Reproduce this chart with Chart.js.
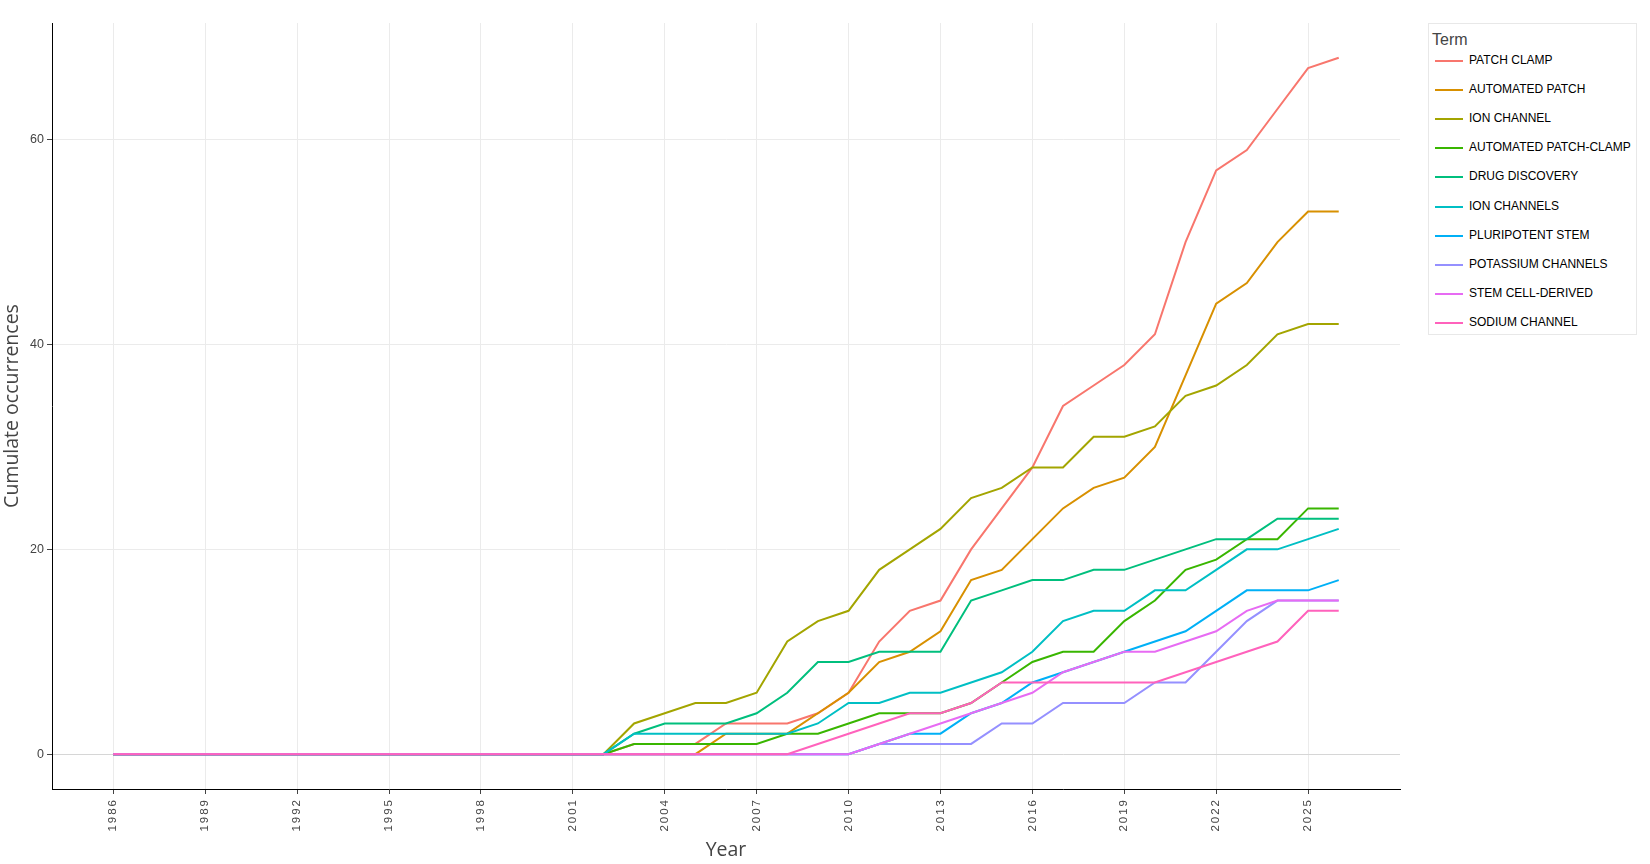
<!DOCTYPE html>
<html lang="en">
<head>
  <meta charset="UTF-8" />
  <title>Cumulate occurrences by term</title>
  <script src="https://cdn.jsdelivr.net/npm/chart.js"></script>
  <style>
    body { margin: 0; background: #fff; }
    #wrap { position: relative; width: 1650px; height: 864px; }
    #legend {
      position: absolute; left: 1428px; top: 23px; width: 207px; height: 310px;
      border: 1px solid #e8e8e8; background: #fff;
      font-family: "Liberation Sans", Arial, sans-serif;
    }
    #legend .title { position: absolute; left: 3px; top: 7px; font-size: 16px; color: #444; }
    #legend .item { position: absolute; left: 6px; height: 14px; }
    #legend .swatch { position: absolute; left: 0; top: 6px; width: 28px; height: 2px; }
    #legend .label { position: absolute; left: 34px; top: -1px; font-size: 12px; color: #000; white-space: nowrap; }
  </style>
</head>
<body>
  <div id="wrap">
    <canvas id="trendChart" width="1650" height="864"></canvas>
    <div id="legend"><div class="title">Term</div></div>
  </div>

  <script>
    // years 1986 .. 2026
    const years = [];
    for (let y = 1986; y <= 2026; y++) years.push(y);

    const xTickYears = [1986, 1989, 1992, 1995, 1998, 2001, 2004, 2007, 2010, 2013, 2016, 2019, 2022, 2025];
    const yTickValues = [0, 20, 40, 60];

    const terms = [
      "PATCH CLAMP", "AUTOMATED PATCH", "ION CHANNEL", "AUTOMATED PATCH-CLAMP", "DRUG DISCOVERY",
      "ION CHANNELS", "PLURIPOTENT STEM", "POTASSIUM CHANNELS", "STEM CELL-DERIVED", "SODIUM CHANNEL"
    ];
    const colors = [
      "#F8766D", "#D89000", "#A3A500", "#39B600", "#00BF7D",
      "#00BFC4", "#00B0F6", "#9590FF", "#E76BF3", "#FF62BC"
    ];

    // 1986-2002 are all zero
    const zeros = [0, 0, 0, 0, 0, 0, 0, 0, 0, 0, 0, 0, 0, 0, 0, 0, 0];

    // values 2003 .. 2026
    const patchClamp        = zeros.concat([1, 1, 1, 3, 3, 3, 4, 6, 11, 14, 15, 20, 24, 28, 34, 36, 38, 41, 50, 57, 59, 63, 67, 68]);
    const automatedPatch    = zeros.concat([0, 0, 0, 2, 2, 2, 4, 6, 9, 10, 12, 17, 18, 21, 24, 26, 27, 30, 37, 44, 46, 50, 53, 53]);
    const ionChannel        = zeros.concat([3, 4, 5, 5, 6, 11, 13, 14, 18, 20, 22, 25, 26, 28, 28, 31, 31, 32, 35, 36, 38, 41, 42, 42]);
    const automatedPatchCl  = zeros.concat([1, 1, 1, 1, 1, 2, 2, 3, 4, 4, 4, 5, 7, 9, 10, 10, 13, 15, 18, 19, 21, 21, 24, 24]);
    const drugDiscovery     = zeros.concat([2, 3, 3, 3, 4, 6, 9, 9, 10, 10, 10, 15, 16, 17, 17, 18, 18, 19, 20, 21, 21, 23, 23, 23]);
    const ionChannels       = zeros.concat([2, 2, 2, 2, 2, 2, 3, 5, 5, 6, 6, 7, 8, 10, 13, 14, 14, 16, 16, 18, 20, 20, 21, 22]);
    const pluripotentStem   = zeros.concat([0, 0, 0, 0, 0, 0, 0, 0, 1, 2, 2, 4, 5, 7, 8, 9, 10, 11, 12, 14, 16, 16, 16, 17]);
    const potassiumChannels = zeros.concat([0, 0, 0, 0, 0, 0, 0, 0, 1, 1, 1, 1, 3, 3, 5, 5, 5, 7, 7, 10, 13, 15, 15, 15]);
    const stemCellDerived   = zeros.concat([0, 0, 0, 0, 0, 0, 0, 0, 1, 2, 3, 4, 5, 6, 8, 9, 10, 10, 11, 12, 14, 15, 15, 15]);
    const sodiumChannel     = zeros.concat([0, 0, 0, 0, 0, 0, 1, 2, 3, 4, 4, 5, 7, 7, 7, 7, 7, 7, 8, 9, 10, 11, 14, 14]);

    const series = [
      patchClamp, automatedPatch, ionChannel, automatedPatchCl, drugDiscovery,
      ionChannels, pluripotentStem, potassiumChannels, stemCellDerived, sodiumChannel
    ];

    const datasets = series.map((vals, i) => ({
      label: terms[i],
      data: vals.map((v, j) => ({ x: years[j], y: v })),
      borderColor: colors[i],
      backgroundColor: colors[i],
      borderWidth: 2,
      pointRadius: 0,
      tension: 0,
      fill: false,
      order: series.length - i   // later traces drawn on top
    }));

    // html legend
    const legend = document.getElementById("legend");
    terms.forEach((t, i) => {
      const item = document.createElement("div");
      item.className = "item";
      item.style.top = (30 + i * 29.1) + "px";
      item.innerHTML = '<div class="swatch" style="background:' + colors[i] + '"></div>' +
                       '<div class="label">' + t + '</div>';
      legend.appendChild(item);
    });

    // the year labels are spaced out a bit in the original
    const spacedXLabels = {
      id: "spacedXLabels",
      afterUpdate(chart) {
        const sc = chart.scales.x;
        if (sc._spaced) return;
        const orig = sc.drawLabels;
        sc.drawLabels = function (area) {
          const c = this.ctx;
          c.save();
          c.letterSpacing = "2px";
          orig.call(this, area);
          c.restore();
        };
        sc._spaced = true;
      }
    };

    const ctx = document.getElementById("trendChart").getContext("2d");
    new Chart(ctx, {
      type: "line",
      data: { datasets: datasets },
      plugins: [spacedXLabels],
      options: {
        responsive: false,
        animation: false,
        devicePixelRatio: 1,
        layout: { padding: { left: 0, top: 23, right: 250, bottom: 0 } },
        plugins: { legend: { display: false }, tooltip: { enabled: false } },
        scales: {
          x: {
            type: "linear",
            min: 1984,
            max: 2028,
            afterBuildTicks: axis => { axis.ticks = xTickYears.map(v => ({ value: v })); },
            afterFit: axis => { axis.height = 75; },
            ticks: {
              color: "#444",
              font: { family: "Liberation Sans", size: 11.5 },
              minRotation: 90,
              maxRotation: 90,
              padding: 4,
              autoSkip: false,
              callback: v => String(v)
            },
            grid: { color: "#ebebeb", lineWidth: 1, tickLength: 5, tickColor: "#444" },
            border: { color: "#000", width: 1 },
            title: {
              display: true,
              text: "Year",
              color: "#444",
              font: { family: "Open Sans", size: 19.5 },
              padding: { top: 0, bottom: 2 }
            }
          },
          y: {
            min: -3.4,
            max: 71.4,
            afterBuildTicks: axis => { axis.ticks = yTickValues.map(v => ({ value: v })); },
            afterFit: axis => { axis.width = 52; },
            ticks: {
              color: "#444",
              font: { family: "Liberation Sans", size: 12.5 },
              padding: 3
            },
            grid: {
              color: c => (c.tick && c.tick.value === 0 ? "#d6d6d6" : "#ebebeb"),
              lineWidth: 1,
              tickLength: 5,
              tickColor: "#444"
            },
            border: { color: "#000", width: 1 },
            title: {
              display: true,
              text: "Cumulate occurrences",
              color: "#444",
              font: { family: "Open Sans", size: 19.5 },
              padding: { top: 1, bottom: 0 }
            }
          }
        }
      }
    });
  </script>
</body>
</html>
